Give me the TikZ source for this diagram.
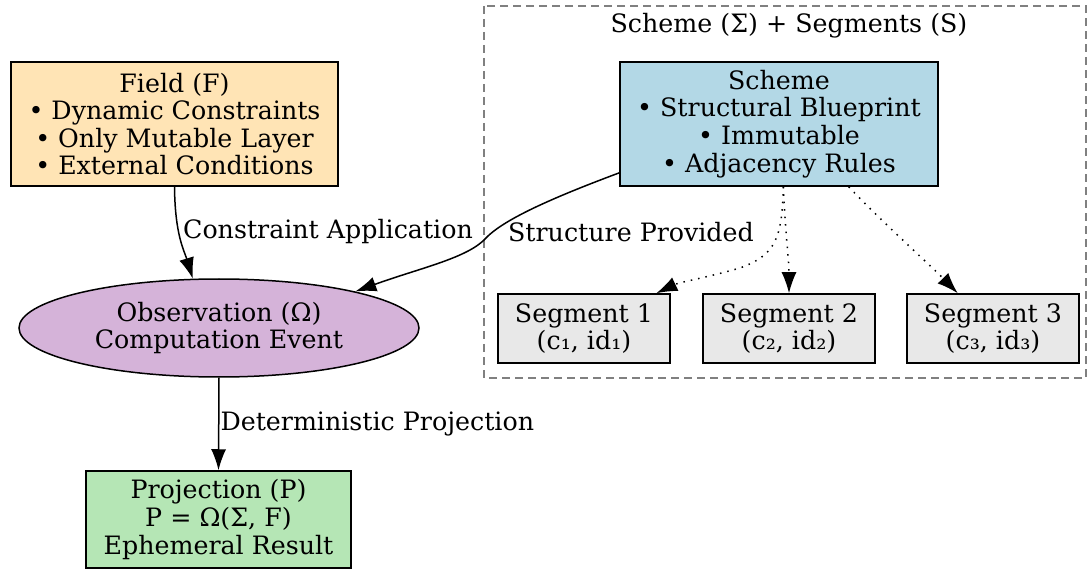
\documentclass[tikz,border=0pt]{standalone}
\usepackage{fontspec}
\setmainfont{DejaVu Serif}
\usetikzlibrary{arrows.meta,shapes.geometric,positioning}
\definecolor{fieldc}{HTML}{FFE4B5}
\definecolor{schemec}{HTML}{B3D8E6}
\definecolor{obsc}{HTML}{D5B3D9}
\definecolor{projc}{HTML}{B5E6B5}
\definecolor{segc}{HTML}{E8E8E8}

\begin{document}
\begin{tikzpicture}[
     x=1pt, y=-1pt,
     % define styles
     txt/.style={
         font=\fontsize{25.3}{27.6}\selectfont,
         align=center
     },
     box/.style={
         txt,
         draw,
         rectangle,
         inner sep=0pt,
         line width=1.5pt
     },
     seg/.style={
         box,
         fill=segc,
         minimum width=172,
         minimum height=69
     },
     lbl/.style={
         txt,
         inner sep=1pt
     },
     edge/.style={
         ->,
         line width=1.5pt
     },
     dots/.style={
         ->,
         line width=1.5pt,
         dash pattern=on 1.5pt off 6pt
     },
     >={Latex[length=21pt,width=15pt]}
]
\useasboundingbox (0,0) rectangle (1087,569);

% cluster round scheme and segments
\draw[gray, line width=1.3pt, dash pattern=on 8pt off 5pt] (484,6) rectangle (1086,378);
\node[txt] (title) at (789,26) {Scheme (Σ) + Segments (S)};

% main nodes
\node[box, fill=fieldc, minimum width=327, minimum height=124] (field) at (174.5,124)
     {Field (F)\\• Dynamic Constraints\\• Only Mutable Layer\\• External Conditions};
\node[box, fill=schemec, minimum width=318, minimum height=124] (scheme) at (779,124)
     {Scheme\\• Structural Blueprint\\• Immutable\\• Adjacency Rules};
\node[txt, draw, ellipse, fill=obsc, line width=1.5pt, inner sep=0pt,
      minimum width=400, minimum height=98] (obs) at (219,328)
     {Observation (Ω)\\Computation Event};
\node[box, fill=projc, minimum width=265, minimum height=97] (proj) at (218.5,519.5)
     {Projection (P)\\P = Ω(Σ, F)\\Ephemeral Result};

% segments
\node[seg] (seg1) at (584,328.5) {Segment 1\\(c₁, id₁)};
\node[seg] (seg2) at (789,328.5) {Segment 2\\(c₂, id₂)};
\node[seg] (seg3) at (993,328.5) {Segment 3\\(c₃, id₃)};

% edges
\draw[edge] (field.south) .. controls (175,235) and (184,250) .. (obs.118);
\node[lbl] (lapp) at (328,232) {Constraint Application};
\draw[edge] (scheme.197) .. controls (560,195) and (505,218) .. (486,238)
     .. controls (468,258) and (420,268) .. (obs.15);
\node[lbl] (lprov) at (631,232) {Structure Provided};
\draw[dots] (scheme.-86) .. controls (782,240) and (775,255) .. (740,268)
     .. controls (705,278) and (680,282) .. (seg1.26);
\draw[dots] (scheme.-86) .. controls (785,230) and (789,260) .. (seg2.north);
\draw[dots] (scheme.-42) .. controls (880,220) and (930,265) .. (seg3.135);
\draw[edge] (obs.south) -- node[lbl, right] (ldet) {Deterministic Projection} (proj.north);
\end{tikzpicture}
\end{document}
